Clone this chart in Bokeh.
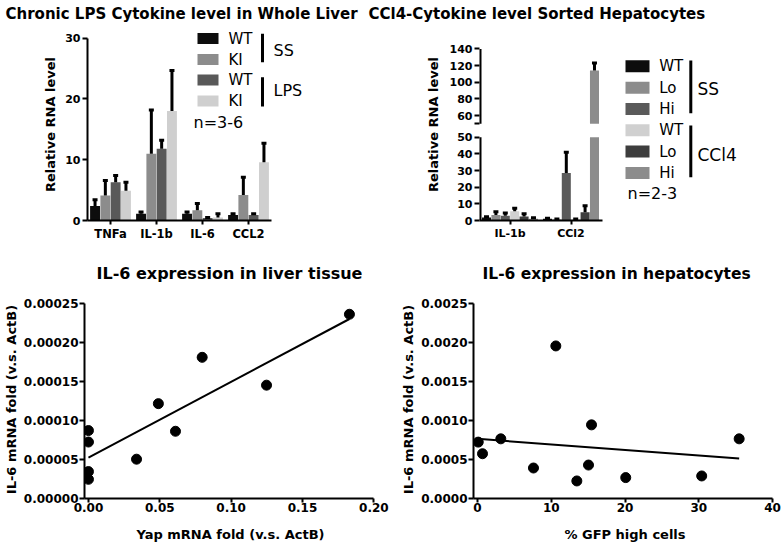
import numpy as np
from bokeh.plotting import figure
from bokeh.layouts import row, column
from bokeh.models import Range1d, FixedTicker, NumeralTickFormatter
from bokeh.core.properties import value
from bokeh.embed import file_html
from bokeh.resources import INLINE

FONT = "DejaVu Sans"

# ---------------- data ----------------
# Panel A: chronic LPS cytokine level in whole liver
a_categories = ["TNFa", "IL-1b", "IL-6", "CCL2"]
a_labels = ["WT", "KI", "WT", "KI"]
a_groups = ["SS", "LPS"]
a_note = "n=3-6"
a_ss_wt = [2.4, 1.1, 1.1, 0.9]
a_ss_wt_err = [1.0, 0.3, 0.3, 0.2]
a_ss_ki = [4.1, 11.0, 1.7, 4.2]
a_ss_ki_err = [2.5, 7.2, 1.1, 2.9]
a_lps_wt = [6.3, 11.8, 0.4, 0.9]
a_lps_wt_err = [1.1, 1.4, 0.1, 0.2]
a_lps_ki = [4.9, 18.0, 0.5, 9.6]
a_lps_ki_err = [1.4, 6.7, 0.6, 3.1]
a_y_ticks = [0, 10, 20, 30]
a_colors = ["#0d0d0d", "#8c8c8c", "#595959", "#cfcfcf"]

# Panel B: CCl4 cytokine level, sorted hepatocytes (broken y axis)
b_categories = ["IL-1b", "CCl2"]
b_labels = ["WT", "Lo", "Hi", "WT", "Lo", "Hi"]
b_groups = ["SS", "CCl4"]
b_note = "n=2-3"
b_ss_wt = [1.8, 1.0]
b_ss_wt_err = [0.5, 0.4]
b_ss_lo = [3.3, 0.6]
b_ss_lo_err = [2.0, 0.3]
b_ss_hi = [2.9, 28.5]
b_ss_hi_err = [1.6, 12.5]
b_ccl4_wt = [5.5, 0.6]
b_ccl4_wt_err = [1.9, 0.3]
b_ccl4_lo = [2.4, 4.9]
b_ccl4_lo_err = [1.7, 3.9]
b_ccl4_hi = [1.0, 114.0]
b_ccl4_hi_err = [0.6, 9.0]
b_lower_ticks = [0, 10, 20, 30, 40, 50]
b_upper_ticks = [60, 80, 100, 120, 140]
b_break = 50
b_colors = ["#0d0d0d", "#8c8c8c", "#5a5a5a", "#d0d0d0", "#3d3d3d", "#8c8c8c"]

# Panel C: IL-6 vs Yap in liver tissue
c_yap = [0.0, 0.0, 0.0, 0.0, 0.0337, 0.049, 0.061, 0.0797, 0.1248, 0.1829]
c_il6 = [0.0000871, 0.0000724, 0.0000345, 0.0000246, 0.0000504,
         0.0001216, 0.0000862, 0.000181, 0.0001453, 0.0002362]
c_x_ticks = [0, 0.05, 0.10, 0.15, 0.20]
c_y_ticks = [0, 0.00005, 0.0001, 0.00015, 0.0002, 0.00025]

# Panel D: IL-6 vs %GFP high cells in hepatocytes
d_gfp = [0.1, 0.68, 3.16, 7.59, 10.62, 13.47, 15.05, 15.46, 20.1, 30.4, 35.48]
d_il6 = [0.000723, 0.000574, 0.000765, 0.000391, 0.001956, 0.000225,
         0.000429, 0.000944, 0.000268, 0.000289, 0.000765]
d_x_ticks = [0, 10, 20, 30, 40]
d_y_ticks = [0, 0.0005, 0.001, 0.0015, 0.002, 0.0025]


# ---------------- helpers ----------------
def base_fig(w, h, frame, xr, yr):
    l, t, r, b = frame
    p = figure(width=w, height=h, x_range=Range1d(*xr), y_range=Range1d(*yr),
               min_border_left=l, min_border_right=w - r,
               min_border_top=t, min_border_bottom=h - b,
               output_backend="svg", toolbar_location=None)
    p.grid.visible = False
    p.outline_line_color = None
    p.background_fill_color = "white"
    p.border_fill_color = "white"
    return p


def style(p, tick_size, label_size, label_standoff=0):
    for ax in list(p.xaxis) + list(p.yaxis):
        ax.axis_line_width = 2
        ax.axis_line_color = "black"
        ax.major_tick_line_width = 2
        ax.major_tick_line_color = "black"
        ax.major_tick_out = 5
        ax.major_tick_in = 0
        ax.minor_tick_line_color = None
        ax.major_label_text_font = FONT
        ax.major_label_text_font_style = "bold"
        ax.major_label_text_font_size = tick_size
        ax.major_label_text_color = "black"
        ax.major_label_standoff = 2
        ax.axis_label_text_font = FONT
        ax.axis_label_text_font_style = "bold"
        ax.axis_label_text_font_size = label_size
        ax.axis_label_text_color = "black"
        ax.axis_label_standoff = label_standoff


def set_title(p, text, size, offset, standoff, valign):
    p.title.text = text
    p.title.text_font = FONT
    p.title.text_font_style = "bold"
    p.title.text_font_size = size
    p.title.text_color = "black"
    p.title.align = "left"
    p.title.offset = offset
    p.title.standoff = standoff
    p.title.vertical_align = valign


def txt(p, xs, ys, texts, size):
    p.text(x=xs, y=ys, text=texts, text_font=value(FONT), text_font_size=value(size),
           text_baseline="middle", text_align="left", text_color="black")


H_TOP, H_BOT = 246, 304
TOP_T, TOP_B = 28, 220          # shared frame top / bottom of the upper row

# ---------------- Panel A ----------------
W_A = 366
A_FRAME = (87, TOP_T, 320, TOP_B)
A_PXX = 46.0
A_PXY = (TOP_B - 37.7) / 30.0
a_xr = (-0.5, -0.5 + (A_FRAME[2] - A_FRAME[0]) / A_PXX)
a_yr = (0, (A_FRAME[3] - A_FRAME[1]) / A_PXY)
pa = base_fig(W_A, H_TOP, A_FRAME, a_xr, a_yr)


def a_px(ix):
    return a_xr[0] + (ix - A_FRAME[0]) / A_PXX


def a_py(iy):
    return (A_FRAME[3] - iy) / A_PXY


a_values = [a_ss_wt, a_ss_ki, a_lps_wt, a_lps_ki]
a_errors = [a_ss_wt_err, a_ss_ki_err, a_lps_wt_err, a_lps_ki_err]
A_STEP, A_BAR = 0.224, 0.215
a_pos = np.arange(len(a_categories))
for i, (vals, col) in enumerate(zip(a_values, a_colors)):
    pa.vbar(x=a_pos + (i - 1.5) * A_STEP, bottom=0, top=vals, width=A_BAR,
            fill_color=col, line_color=None)
for i, (vals, errs) in enumerate(zip(a_values, a_errors)):
    xs = a_pos + (i - 1.5) * A_STEP
    tops = np.array(vals) + np.array(errs)
    pa.segment(x0=xs, y0=vals, x1=xs, y1=tops, line_width=3, line_color="black")
    pa.segment(x0=xs - 2.5 / A_PXX, y0=tops, x1=xs + 2.5 / A_PXX, y1=tops,
               line_width=3, line_color="black")

style(pa, "11px", "13px", 4)
pa.xaxis.ticker = FixedTicker(ticks=list(range(len(a_categories))))
pa.xaxis.major_label_overrides = {i: c for i, c in enumerate(a_categories)}
pa.xaxis.bounds = (-0.5, len(a_categories) - 0.5)
pa.xaxis.major_tick_out = 4
pa.xaxis.major_label_text_font_size = "11.5px"
pa.yaxis.ticker = FixedTicker(ticks=a_y_ticks)
pa.yaxis.bounds = (a_y_ticks[0], a_y_ticks[-1])
pa.yaxis.axis_label = "Relative RNA level"
set_title(pa, "Chronic LPS Cytokine level in Whole Liver", "15px", 5 - A_FRAME[0], 8, "top")

# legend A
a_rows = [38, 59, 79.5, 100.5]
pa.rect(x=[a_px(207.5)] * 4, y=[a_py(r) for r in a_rows], width=21, height=11,
        width_units="screen", height_units="screen", fill_color=a_colors, line_color=None)
txt(pa, [a_px(228)] * 4, [a_py(r) for r in a_rows], a_labels, "15px")
pa.segment(x0=[a_px(262)] * 2, y0=[a_py(33.3), a_py(76.7)],
           x1=[a_px(262)] * 2, y1=[a_py(61.7), a_py(106)], line_width=3, line_color="black")
txt(pa, [a_px(273)] * 2, [a_py(50), a_py(90)], a_groups, "16px")
txt(pa, [a_px(193)], [a_py(122)], [a_note], "16px")

# ---------------- Panel B (broken axis) ----------------
W_B = 784 - W_A
B_OX = W_A                      # page x of this figure
B_FRAME = (479 - B_OX, TOP_T, 746 - B_OX, TOP_B)
B_PXX = 61.0
B_PXY = (TOP_B - 136.7) / 50.0
B_GAP, B_UPPER_SCALE = 8, 0.5
b_xr = (-0.5, -0.5 + (B_FRAME[2] - B_FRAME[0]) / B_PXX)
b_yr = (0, (B_FRAME[3] - B_FRAME[1]) / B_PXY)
pb = base_fig(W_B, H_TOP, B_FRAME, b_xr, b_yr)


def up(v):
    return b_break + B_GAP + (np.asarray(v, float) - b_break) * B_UPPER_SCALE


def brk(v):
    v = np.asarray(v, float)
    return np.where(v <= b_break, v, up(v))


def b_px(page_x):
    return b_xr[0] + (page_x - B_OX - B_FRAME[0]) / B_PXX


def b_py(iy):
    return (B_FRAME[3] - iy) / B_PXY


b_values = [b_ss_wt, b_ss_lo, b_ss_hi, b_ccl4_wt, b_ccl4_lo, b_ccl4_hi]
b_errors = [b_ss_wt_err, b_ss_lo_err, b_ss_hi_err, b_ccl4_wt_err, b_ccl4_lo_err, b_ccl4_hi_err]
B_STEP, B_BAR = 0.154, 0.148
b_pos = np.arange(len(b_categories))
for i, (vals, col) in enumerate(zip(b_values, b_colors)):
    xs = b_pos + (i - 2.5) * B_STEP
    v = np.array(vals, float)
    pb.vbar(x=xs, bottom=0, top=np.minimum(v, b_break), width=B_BAR,
            fill_color=col, line_color=None)
    hi = v > b_break
    if hi.any():
        pb.vbar(x=xs[hi], bottom=float(up(b_break)), top=up(v[hi]), width=B_BAR,
                fill_color=col, line_color=None)
for i, (vals, errs) in enumerate(zip(b_values, b_errors)):
    xs = b_pos + (i - 2.5) * B_STEP
    v = np.array(vals, float)
    tops = v + np.array(errs, float)
    pb.segment(x0=xs, y0=brk(v), x1=xs, y1=brk(tops), line_width=3, line_color="black")
    pb.segment(x0=xs - 2.5 / B_PXX, y0=brk(tops), x1=xs + 2.5 / B_PXX, y1=brk(tops),
               line_width=3, line_color="black")

style(pb, "11px", "13px", 6)
pb.xaxis.ticker = FixedTicker(ticks=list(range(len(b_categories))))
pb.xaxis.major_label_overrides = {i: c for i, c in enumerate(b_categories)}
pb.xaxis.bounds = (-0.5, 1.52)
pb.xaxis.major_tick_out = 4
b_tick_pos = [int(t) for t in b_lower_ticks] + [int(round(float(up(b_break))))] + \
             [int(round(float(up(t)))) for t in b_upper_ticks]
b_overrides = {int(round(float(up(b_break)))): ""}
for t in b_upper_ticks:
    b_overrides[int(round(float(up(t))))] = str(t)
pb.yaxis.ticker = FixedTicker(ticks=b_tick_pos)
pb.yaxis.major_label_overrides = b_overrides
pb.yaxis.axis_line_color = None
pb.yaxis.axis_label = "Relative RNA level"
# the two pieces of the broken axis line
pb.segment(x0=[b_xr[0]] * 2, y0=[0, float(up(b_break))], x1=[b_xr[0]] * 2,
           y1=[b_break, float(up(b_upper_ticks[-1]))], line_width=4, line_color="black")
set_title(pb, "CCl4-Cytokine level Sorted Hepatocytes", "15px",
          368 - B_OX - B_FRAME[0], 8, "top")

# legend B
b_rows = [65.8, 87.2, 108.5, 129.8, 151.1, 172.5]
pb.rect(x=[b_px(637)] * 6, y=[b_py(r) for r in b_rows], width=24, height=12,
        width_units="screen", height_units="screen", fill_color=b_colors, line_color=None)
txt(pb, [b_px(658.7)] * 6, [b_py(r) for r in b_rows], b_labels, "15px")
pb.segment(x0=[b_px(690.3)] * 2, y0=[b_py(60), b_py(125)],
           x1=[b_px(690.3)] * 2, y1=[b_py(112.7), b_py(176.7)], line_width=3, line_color="black")
txt(pb, [b_px(697)] * 2, [b_py(88), b_py(154)], b_groups, "17px")
txt(pb, [b_px(627)], [b_py(193)], [b_note], "16px")

# ---------------- Panel C ----------------
W_C = 396
BOT_T, BOT_B = 54, 252
C_FRAME = (80, BOT_T, 376, BOT_B)
C_X0 = 84                     # pixel of x = 0 (points at 0 stay whole)
C_PXX = (373.3 - C_X0) / 0.2
C_PXY = (BOT_B - 57) / 0.00025
c_xr = (-(C_X0 - C_FRAME[0]) / C_PXX, (C_FRAME[2] - C_X0) / C_PXX)
c_yr = (0, (C_FRAME[3] - C_FRAME[1]) / C_PXY)
pc = base_fig(W_C, H_BOT, C_FRAME, c_xr, c_yr)
c_slope, c_int = np.polyfit(c_yap, c_il6, 1)
c_lx = np.array([0.0, max(c_yap)])
pc.line(c_lx, c_slope * c_lx + c_int, line_width=2, line_color="black")
pc.scatter(c_yap, c_il6, size=10, fill_color="black", line_color="black")
style(pc, "12px", "13px", 2)
pc.xaxis.major_tick_out = 4
pc.xaxis.major_label_standoff = 0
pc.xaxis.axis_label_standoff = 12
pc.yaxis.major_label_standoff = 1
pc.xaxis.ticker = FixedTicker(ticks=c_x_ticks)
pc.xaxis.formatter = NumeralTickFormatter(format="0.00")
pc.xaxis.bounds = (c_xr[0], c_x_ticks[-1])
pc.yaxis.ticker = FixedTicker(ticks=c_y_ticks)
pc.yaxis.formatter = NumeralTickFormatter(format="0.00000")
pc.yaxis.bounds = (c_y_ticks[0], c_y_ticks[-1])
pc.xaxis.axis_label = "Yap mRNA fold (v.s. ActB)"
pc.yaxis.axis_label = "IL-6 mRNA fold (v.s. ActB)"
set_title(pc, "IL-6 expression in liver tissue", "16px", 92 - C_FRAME[0], 32, "top")

# ---------------- Panel D ----------------
W_D = 784 - W_C
D_OX = W_C
D_FRAME = (77, BOT_T, 380, BOT_B)
D_X0 = 81
D_PXX = (772 - D_OX - D_X0) / 40.0
D_PXY = (BOT_B - 57) / 0.0025
d_xr = (-(D_X0 - D_FRAME[0]) / D_PXX, (D_FRAME[2] - D_X0) / D_PXX)
d_yr = (0, (D_FRAME[3] - D_FRAME[1]) / D_PXY)
pd_ = base_fig(W_D, H_BOT, D_FRAME, d_xr, d_yr)
d_slope, d_int = np.polyfit(d_gfp, d_il6, 1)
d_lx = np.array([0.0, max(d_gfp)])
pd_.line(d_lx, d_slope * d_lx + d_int, line_width=2, line_color="black")
pd_.scatter(d_gfp, d_il6, size=10, fill_color="black", line_color="black")
style(pd_, "12px", "13px", 2)
pd_.xaxis.major_tick_out = 4
pd_.xaxis.major_label_standoff = 0
pd_.xaxis.axis_label_standoff = 12
pd_.yaxis.major_label_standoff = 1
pd_.xaxis.ticker = FixedTicker(ticks=d_x_ticks)
pd_.xaxis.bounds = (d_xr[0], d_x_ticks[-1])
pd_.yaxis.ticker = FixedTicker(ticks=d_y_ticks)
pd_.yaxis.formatter = NumeralTickFormatter(format="0.0000")
pd_.yaxis.bounds = (d_y_ticks[0], d_y_ticks[-1])
pd_.xaxis.axis_label = "% GFP high cells"
pd_.yaxis.axis_label = "IL-6 mRNA fold (v.s. ActB)"
set_title(pd_, "IL-6 expression in hepatocytes", "15.5px", 482 - D_OX - D_FRAME[0], 32, "top")

layout = column(row(pa, pb), row(pc, pd_))
open("out.html", "w").write(file_html(layout, INLINE))
